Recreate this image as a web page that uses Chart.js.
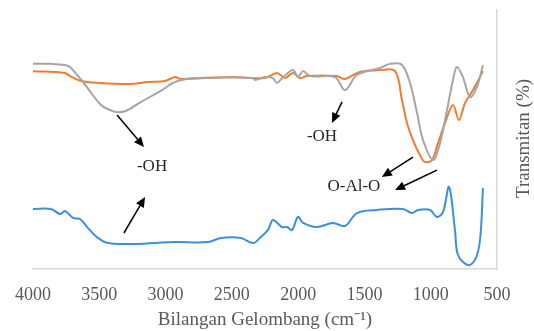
<!DOCTYPE html>
<html>
<head>
<meta charset="utf-8">
<script src="https://cdn.jsdelivr.net/npm/chart.js@4"></script>
<style>
  body { margin: 0; background: #fff; }
</style>
</head>
<body>
<canvas id="ftirChart" width="534" height="331"></canvas>
<script>
// setup
const serif = '"Liberation Serif", "Times New Roman", serif';

// wavenumber (cm-1) and transmittance, per spectrum
const grayWn = [4000, 3864, 3759, 3721, 3623, 3487, 3420, 3374, 3300, 3185, 3027, 2929, 2778, 2500, 2340, 2325, 2250, 2190, 2160, 2120, 2039, 2001, 1963, 1910, 1722, 1647, 1556, 1383, 1307, 1217, 1156, 1103, 1058, 983, 930, 877, 832, 802, 757, 704, 651, 606];
const grayT = [79.2, 79.2, 78.8, 78.0, 72.2, 63.3, 61.4, 60.6, 61.0, 64.5, 69.1, 72.2, 73.7, 73.9, 73.7, 73.0, 74.1, 73.7, 71.8, 73.7, 76.8, 74.1, 76.4, 74.5, 74.1, 69.1, 74.9, 77.6, 79.2, 78.8, 71.8, 60.2, 49.8, 42.1, 48.6, 61.4, 73.0, 78.0, 74.1, 66.4, 70.3, 78.8];

const orangeWn = [4000, 3759, 3721, 3638, 3495, 3268, 3133, 3004, 2929, 2891, 2700, 2500, 2250, 2160, 2099, 2039, 1986, 1933, 1707, 1647, 1533, 1383, 1269, 1217, 1179, 1134, 1081, 1043, 990, 945, 892, 832, 787, 741, 681, 606];
const orangeT = [76.4, 75.7, 74.5, 72.6, 71.8, 71.4, 72.2, 72.6, 74.1, 73.4, 73.7, 74.1, 73.7, 75.7, 73.7, 75.7, 73.7, 74.5, 74.5, 73.4, 76.1, 76.8, 76.4, 65.3, 56.4, 49.8, 44.0, 41.3, 42.1, 48.6, 56.4, 63.3, 57.5, 64.1, 69.1, 76.4];

const blueWn = [4000, 3864, 3796, 3759, 3698, 3645, 3585, 3510, 3434, 3231, 2929, 2680, 2582, 2431, 2341, 2280, 2227, 2190, 2122, 2084, 2046, 2001, 1963, 1858, 1737, 1647, 1556, 1405, 1209, 1141, 1096, 1005, 953, 907, 862, 817, 794, 719, 666, 628, 606];
const blueT = [23.2, 23.2, 21.2, 22.4, 19.7, 19.3, 15.8, 12.0, 10.0, 9.7, 10.4, 10.4, 12.0, 12.0, 10.0, 12.4, 15.1, 18.9, 16.2, 16.2, 15.1, 20.1, 17.8, 16.2, 17.8, 16.6, 21.6, 22.8, 23.2, 21.6, 22.8, 22.8, 20.1, 22.0, 31.7, 15.1, 5.4, 1.5, 3.5, 11.2, 31.3];

// annotations (in data units)
const noteText = ['-OH', '-OH', 'O-Al-O'];
const noteWn = [3102, 1820, 1579];
const noteT = [39.4, 51.0, 32.0];
// arrows: [fromWn, fromT, toWn, toT]
const arrows = [
  [3366, 59.5, 3163, 47.1],
  [3314, 13.9, 3155, 27.8],
  [1669, 64.5, 1745, 56.4],
  [1134, 43.2, 1368, 35.5],
  [953, 38.2, 1269, 30.5]
];

const xTitle = 'Bilangan Gelombang (cm\u207B\u00B9)';
const yTitle = 'Transmitan (%)';

const toPoints = (xs, ys) => xs.map((x, i) => ({ x: x, y: ys[i] }));

const data = {
  datasets: [
    { label: 'gray', data: toPoints(grayWn, grayT), borderColor: '#A5A5A5' },
    { label: 'orange', data: toPoints(orangeWn, orangeT), borderColor: '#ED7D31' },
    { label: 'blue', data: toPoints(blueWn, blueT), borderColor: '#3A8FE3' }
  ].map(d => Object.assign(d, {
    borderWidth: 2,
    pointRadius: 0,
    fill: false,
    tension: 0.35
  }))
};

// draws the notes, arrows and the rotated right-side title
const notesPlugin = {
  id: 'notes',
  afterDraw(chart) {
    const ctx = chart.ctx;
    const xs = chart.scales.x, ys = chart.scales.y;
    ctx.save();
    ctx.font = '17px ' + serif;
    ctx.fillStyle = '#262626';
    ctx.textAlign = 'center';
    ctx.textBaseline = 'middle';
    noteText.forEach((t, i) => {
      ctx.fillText(t, xs.getPixelForValue(noteWn[i]), ys.getPixelForValue(noteT[i]));
    });

    ctx.strokeStyle = '#000';
    ctx.fillStyle = '#000';
    ctx.lineWidth = 1.5;
    arrows.forEach(a => {
      const x1 = xs.getPixelForValue(a[0]), y1 = ys.getPixelForValue(a[1]);
      const x2 = xs.getPixelForValue(a[2]), y2 = ys.getPixelForValue(a[3]);
      const ang = Math.atan2(y2 - y1, x2 - x1);
      const len = 10, half = 4.5;
      const bx = x2 - len * Math.cos(ang), by = y2 - len * Math.sin(ang);
      ctx.beginPath();
      ctx.moveTo(x1, y1);
      ctx.lineTo(bx, by);
      ctx.stroke();
      ctx.beginPath();
      ctx.moveTo(x2, y2);
      ctx.lineTo(bx + half * Math.sin(ang), by - half * Math.cos(ang));
      ctx.lineTo(bx - half * Math.sin(ang), by + half * Math.cos(ang));
      ctx.closePath();
      ctx.fill();
    });

    ctx.translate(chart.chartArea.right + 27, (chart.chartArea.top + chart.chartArea.bottom) / 2 - 1);
    ctx.rotate(-Math.PI / 2);
    ctx.font = '19px ' + serif;
    ctx.fillStyle = '#595959';
    ctx.fillText(yTitle, 0, 0);
    ctx.restore();
  }
};

// config
const config = {
  type: 'line',
  data,
  options: {
    responsive: false,
    animation: false,
    layout: { padding: { left: 33, top: 10, right: 0, bottom: 0 } },
    plugins: {
      legend: { display: false },
      tooltip: { enabled: false }
    },
    scales: {
      x: {
        type: 'linear',
        reverse: true,
        min: 500,
        max: 4000,
        grid: { display: false },
        border: { display: true, color: '#D9D9D9', width: 1.5 },
        ticks: {
          stepSize: 500,
          padding: 7,
          color: '#595959',
          font: { family: serif, size: 18 },
          callback: (v) => String(v)
        },
        title: {
          display: true,
          text: xTitle,
          color: '#595959',
          font: { family: serif, size: 19 },
          padding: { top: 0, bottom: 0 }
        },
        afterFit: (scale) => { scale.height = 62; }
      },
      y: {
        position: 'right',
        min: 0,
        max: 100,
        grid: { display: false },
        border: { display: true, color: '#D9D9D9', width: 1.5 },
        ticks: { display: false },
        afterFit: (scale) => { scale.width = 37; }
      }
    }
  },
  plugins: [notesPlugin]
};

// render init block
const ftirChart = new Chart(document.getElementById('ftirChart'), config);
</script>
</body>
</html>
